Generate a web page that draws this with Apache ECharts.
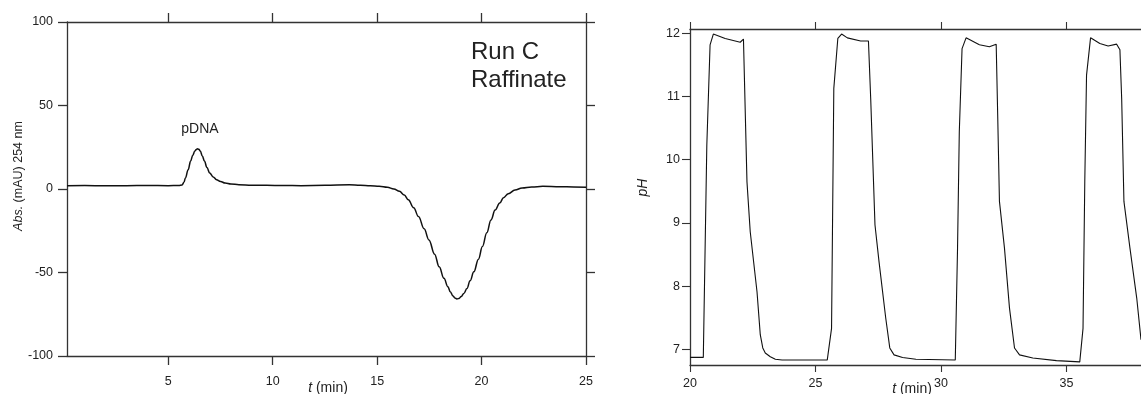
<!DOCTYPE html>
<html>
<head>
<meta charset="utf-8">
<script src="https://cdn.jsdelivr.net/npm/echarts@6/dist/echarts.min.js"></script>
<style>
  html, body { margin: 0; padding: 0; background: #fff; }
  #chart { width: 1141px; height: 394px; }
</style>
</head>
<body>
<div id="chart"></div>
<script>
// left panel: absorbance trace (Run C raffinate)
const absTime = [0.15, 1.0, 2.0, 3.0, 4.0, 5.0, 5.5, 5.66, 5.75, 5.82, 5.95, 6.07, 6.17, 6.27, 6.34, 6.4, 6.46, 6.53, 6.63, 6.73, 6.85, 6.98,
  7.15, 7.31, 7.5, 7.72, 8.0, 8.38, 9.0, 9.71, 10.5, 11.36, 12.5, 13.67, 14.2, 14.67, 15.1, 15.49, 15.8, 16.07, 16.3, 16.49,
  16.75, 16.98, 17.25, 17.48, 17.75, 17.97, 18.2, 18.39, 18.5, 18.63, 18.72, 18.82, 18.92, 19.03, 19.15, 19.3, 19.45, 19.63,
  19.85, 20.04, 20.25, 20.45, 20.65, 20.87, 21.05, 21.28, 21.6, 21.94, 22.4, 22.93, 23.76, 24.4, 25.0];
const absValue = [2.0, 2.1, 1.9, 2.0, 2.1, 2.0, 2.1, 2.4, 4.0, 6.6, 11.5, 16.7, 20.2, 22.7, 23.7, 24.1, 23.8, 22.7, 19.8, 16.7, 12.9, 9.6,
  7.2, 5.6, 4.5, 3.6, 3.0, 2.6, 2.3, 2.2, 2.1, 2.0, 2.2, 2.6, 2.3, 2.0, 1.6, 1.0, 0.0, -1.4, -3.6, -6.4,
  -11.2, -16.5, -23.8, -30.5, -39.0, -46.6, -53.5, -58.6, -61.5, -64.0, -65.2, -65.8, -65.5, -64.3, -62.5, -59.6, -55.0, -49.6,
  -42.0, -34.5, -26.2, -18.5, -12.6, -8.4, -5.2, -2.8, -0.6, 0.6, 1.2, 1.6, 1.4, 1.2, 1.0];
const absTimeTicks = [5, 10, 15, 20, 25];
const absValueTicks = [-100, -50, 0, 50, 100];

// right panel: pH trace
const phTime = [20.0, 20.53, 20.67, 20.8, 20.93, 21.4, 22.0, 22.13, 22.27, 22.4, 22.67, 22.8, 22.9, 23.0, 23.2, 23.4, 23.67,
  25.47, 25.64, 25.73, 25.89, 26.04, 26.27, 26.8, 27.11, 27.2, 27.37, 27.53, 27.8, 27.96, 28.13, 28.47, 29.0,
  30.57, 30.66, 30.73, 30.84, 31.0, 31.53, 31.93, 32.2, 32.26, 32.33, 32.53, 32.73, 32.93, 33.13, 33.66, 34.6,
  35.53, 35.66, 35.73, 35.8, 35.96, 36.33, 36.66, 37.0, 37.13, 37.2, 37.29, 37.53, 37.8, 37.97];
const phValue = [6.87, 6.87, 10.23, 11.82, 11.99, 11.92, 11.86, 11.91, 9.65, 8.86, 7.91, 7.23, 7.02, 6.94, 6.88, 6.84, 6.83,
  6.83, 7.33, 11.13, 11.92, 11.99, 11.93, 11.88, 11.88, 10.97, 8.97, 8.39, 7.49, 7.02, 6.91, 6.87, 6.84,
  6.83, 8.6, 10.44, 11.76, 11.93, 11.82, 11.79, 11.83, 10.71, 9.34, 8.6, 7.65, 7.02, 6.91, 6.86, 6.82,
  6.8, 7.33, 9.65, 11.34, 11.93, 11.84, 11.8, 11.83, 11.74, 10.97, 9.34, 8.6, 7.81, 7.15];
const phTimeTicks = [20, 25, 30, 35];
const phValueTicks = [7, 8, 9, 10, 11, 12];

const FONT = "'Liberation Sans', Arial, sans-serif";
const frameLine = { show: true, onZero: false, lineStyle: { color: "#333", width: 1.3 } };
const tickLabel = { fontFamily: FONT, fontSize: 12.5, color: "#222" };

function axis(extra) {
  return Object.assign({
    type: "value",
    splitLine: { show: false },
    axisLine: frameLine,
  }, extra);
}

const chart = echarts.init(document.getElementById("chart"));

const option = {
  animation: false,
  grid: [
    { left: 67, right: 555, top: 22, bottom: 38 },
    { left: 690, right: 0, top: 29, bottom: 29 },
  ],
  xAxis: [
    axis({
      gridIndex: 0, position: "bottom", min: 0.15, max: 25,
      axisTick: { length: 9, lineStyle: { color: "#333", width: 1.3 }, customValues: absTimeTicks },
      axisLabel: Object.assign({ margin: 19, customValues: absTimeTicks }, tickLabel),
    }),
    axis({
      gridIndex: 0, position: "top", min: 0.15, max: 25,
      axisTick: { length: 9, lineStyle: { color: "#333", width: 1.3 }, customValues: absTimeTicks },
      axisLabel: { show: false },
    }),
    axis({
      gridIndex: 1, position: "bottom", min: 20, max: 37.97,
      axisTick: { length: 7, lineStyle: { color: "#333", width: 1.1 }, customValues: phTimeTicks },
      axisLabel: Object.assign({ margin: 12, customValues: phTimeTicks }, tickLabel),
    }),
    axis({
      gridIndex: 1, position: "top", min: 20, max: 37.97,
      axisTick: { length: 7, lineStyle: { color: "#333", width: 1.1 }, customValues: phTimeTicks },
      axisLabel: { show: false },
    }),
  ],
  yAxis: [
    axis({
      gridIndex: 0, position: "left", min: -100, max: 100,
      axisTick: { length: 9, lineStyle: { color: "#333", width: 1.3 }, customValues: absValueTicks },
      axisLabel: Object.assign({ margin: 14, customValues: absValueTicks }, tickLabel),
    }),
    axis({
      gridIndex: 0, position: "right", min: -100, max: 100,
      axisTick: { length: 9, lineStyle: { color: "#333", width: 1.3 }, customValues: absValueTicks },
      axisLabel: { show: false },
    }),
    axis({
      gridIndex: 1, position: "left", min: 6.75, max: 12.07,
      axisTick: { length: 8, lineStyle: { color: "#333", width: 1.1 }, customValues: phValueTicks },
      axisLabel: Object.assign({ margin: 10, customValues: phValueTicks }, tickLabel),
    }),
  ],
  series: [
    {
      type: "line",
      xAxisIndex: 0,
      yAxisIndex: 0,
      data: absTime.map((t, i) => [t, absValue[i]]),
      showSymbol: false,
      smooth: 0.4,
      smoothMonotone: "x",
      lineStyle: { color: "#111", width: 1.5 },
    },
    {
      type: "line",
      xAxisIndex: 2,
      yAxisIndex: 2,
      data: phTime.map((t, i) => [t, phValue[i]]),
      showSymbol: false,
      lineStyle: { color: "#111", width: 1.1 },
    },
  ],
  graphic: [
    {
      type: "text", x: 18.5, y: 176, rotation: Math.PI / 2,
      style: {
        text: "{i|Abs.} (mAU) 254 nm", align: "center", verticalAlign: "middle",
        fontFamily: FONT, fontSize: 12.5, fill: "#222",
        rich: { i: { fontStyle: "italic", fontFamily: FONT, fontSize: 12.5, fill: "#222" } },
      },
    },
    {
      type: "text", x: 328, y: 388,
      style: {
        text: "{i|t} (min)", align: "center", verticalAlign: "middle",
        fontFamily: FONT, fontSize: 14, fill: "#222",
        rich: { i: { fontStyle: "italic", fontFamily: FONT, fontSize: 14, fill: "#222" } },
      },
    },
    {
      type: "text", x: 200, y: 129,
      style: { text: "pDNA", align: "center", verticalAlign: "middle", fontFamily: FONT, fontSize: 14, fill: "#222" },
    },
    {
      type: "text", x: 471, y: 52,
      style: { text: "Run C", align: "left", verticalAlign: "middle", fontFamily: FONT, fontSize: 24, fill: "#222" },
    },
    {
      type: "text", x: 471, y: 80,
      style: { text: "Raffinate", align: "left", verticalAlign: "middle", fontFamily: FONT, fontSize: 24, fill: "#222" },
    },
    {
      type: "text", x: 643, y: 187.5, rotation: Math.PI / 2,
      style: {
        text: "pH", align: "center", verticalAlign: "middle",
        fontFamily: FONT, fontSize: 14, fontStyle: "italic", fill: "#222",
      },
    },
    {
      type: "text", x: 912, y: 389,
      style: {
        text: "{i|t} (min)", align: "center", verticalAlign: "middle",
        fontFamily: FONT, fontSize: 14, fill: "#222",
        rich: { i: { fontStyle: "italic", fontFamily: FONT, fontSize: 14, fill: "#222" } },
      },
    },
  ],
};

chart.setOption(option);
</script>
</body>
</html>
